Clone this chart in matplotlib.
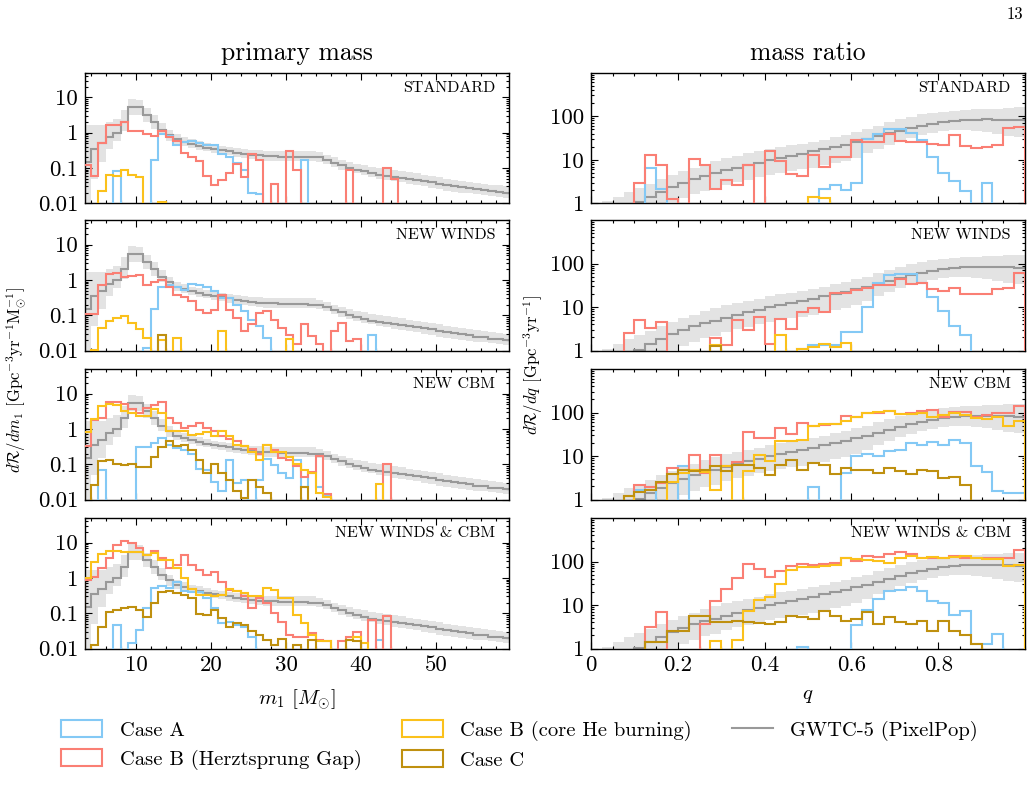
import numpy as np
import matplotlib
matplotlib.use("Agg")
import matplotlib.pyplot as plt
from matplotlib.ticker import AutoMinorLocator, LogLocator, NullFormatter
from matplotlib.patches import Patch
from matplotlib.lines import Line2D

plt.rcParams["font.family"] = ["cmr10", "DejaVu Serif"]
plt.rcParams["mathtext.fontset"] = "cm"
plt.rcParams["axes.formatter.use_mathtext"] = True
plt.rcParams["axes.unicode_minus"] = False

# ---------------- data ----------------
MODELS = ["STANDARD", "NEW WINDS", "NEW CBM", "NEW WINDS & CBM"]
CASE_LABELS = ["Case A", "Case B (Herztsprung Gap)", "Case B (core He burning)", "Case C"]
GW_LABEL = "GWTC-5 (PixelPop)"

M1_EDGES = np.arange(3, 61)            # 1 Msun bins, 3..60
Q_EDGES = np.linspace(0.0, 1.0, 41)    # 0.025 bins

# primary-mass histograms, bins m1 = 3..44  (42 values)
STD_A = [0, 0, 0, 0, 0.08, 0, 0, 0, 0, 0.17,
         0.9, 0.8, 0.45, 0.55, 0.6, 0.5, 0.45, 0.45, 0.25, 0.2,
         0.14, 0.09, 0.02, 0.018, 0, 0, 0, 0, 0, 0.17,
         0, 0, 0, 0, 0, 0, 0, 0, 0, 0,
         0, 0]
STD_BHG = [0.12, 0.06, 0.5, 1.7, 1.7, 2.0, 1.1, 1.1, 0.9, 0.8,
           1.1, 0.77, 0.57, 0.27, 0.2, 0.16, 0.058, 0.032, 0.045, 0.07,
           0.13, 0.055, 0.25, 0.17, 0, 0.035, 0, 0.3, 0.09, 0,
           0, 0, 0, 0, 0, 0.09, 0, 0, 0, 0,
           0.1, 0.05]
STD_BHE = [0, 0, 0.022, 0.065, 0.06, 0.085, 0.065, 0.055, 0, 0,
           0.011, 0, 0, 0, 0, 0, 0, 0, 0, 0,
           0, 0, 0, 0, 0, 0, 0, 0, 0, 0,
           0, 0, 0, 0, 0, 0, 0, 0, 0, 0,
           0, 0]
STD_C = [0] * 42

NW_A = [0, 0, 0, 0, 0, 0, 0, 0, 0.012, 0.15,
        0.65, 0.7, 0.65, 0.52, 0.76, 0.7, 0.65, 0.5, 0.31, 0.31,
        0.2, 0.13, 0.076, 0.049, 0.023, 0, 0, 0, 0, 0,
        0, 0, 0, 0, 0, 0, 0, 0, 0.028, 0,
        0, 0]
NW_BHG = [0.11, 0.11, 0.72, 1.45, 1.55, 1.24, 1.3, 1.4, 0.72, 0.9,
          1.0, 0.65, 0.38, 0.34, 0.25, 0.14, 0.115, 0.14, 0.38, 0.14,
          0.085, 0.036, 0.055, 0.115, 0.135, 0.076, 0.044, 0.028, 0.015, 0.055,
          0.026, 0.015, 0, 0.036, 0.061, 0.019, 0.022, 0, 0, 0,
          0, 0]
NW_BHE = [0, 0.0105, 0.045, 0.07, 0.085, 0.095, 0.06, 0.04, 0.023, 0,
          0.02, 0, 0.023, 0, 0, 0, 0, 0, 0.036, 0,
          0, 0, 0, 0, 0, 0, 0, 0.021, 0, 0,
          0, 0, 0, 0, 0, 0, 0, 0, 0, 0,
          0, 0]
NW_C = [0, 0, 0, 0, 0, 0, 0, 0, 0, 0,
        0.028, 0, 0, 0, 0, 0, 0, 0, 0, 0,
        0, 0, 0, 0, 0, 0, 0, 0, 0, 0,
        0, 0, 0, 0, 0, 0, 0, 0, 0, 0,
        0, 0]

CBM_A = [0, 0, 0.07, 0, 0, 0, 0, 0.3, 0.3, 0.4,
         0.55, 0.36, 0.29, 0.26, 0.2, 0.075, 0.07, 0.032, 0.018, 0.13,
         0.029, 0.036, 0, 0.036, 0.14, 0.095, 0.055, 0.04, 0.13, 0.023,
         0.055, 0.023, 0.013, 0, 0, 0, 0, 0, 0, 0,
         0, 0]
CBM_BHG = [0.33, 1.85, 2.0, 5.9, 5.9, 5.2, 3.6, 2.9, 4.0, 4.7,
           5.8, 2.0, 1.5, 1.1, 1.25, 1.5, 1.1, 0.9, 0.65, 0.52,
           0.45, 0.33, 0.27, 0.2, 0.36, 0.25, 0.15, 0.13, 0.09, 0.045,
           0.06, 0.17, 0.0145, 0, 0, 0, 0, 0, 0, 0,
           0.1, 0]
CBM_BHE = [0.8, 1.9, 4.4, 5.2, 4.7, 3.2, 2.9, 2.3, 2.3, 3.6,
           2.9, 0.86, 0.86, 0.86, 0.69, 0.72, 0.8, 0.62, 0.86, 0.65,
           0.36, 0.33, 0.23, 0.13, 0.36, 0.23, 0.23, 0.16, 0.105, 0.069,
           0.055, 0.015, 0.012, 0, 0, 0, 0, 0, 0, 0.028,
           0, 0]
CBM_C = [0, 0.026, 0.12, 0.13, 0.1, 0.095, 0.1, 0.086, 0.086, 0.16,
         0.3, 0.46, 0.33, 0.36, 0.26, 0.13, 0.055, 0.1, 0.057, 0.036,
         0.018, 0.011, 0.036, 0.023, 0.015, 0, 0, 0, 0, 0.023,
         0, 0, 0, 0, 0, 0, 0, 0, 0, 0,
         0, 0]

NWC_A = [0, 0, 0, 0, 0.047, 0, 0.014, 0.034, 0.14, 0.51,
         0.6, 0.51, 0.79, 0.43, 0.41, 0.41, 0.27, 0.14, 0.052, 0.055,
         0.047, 0.04, 0.022, 0, 0, 0, 0, 0, 0, 0,
         0, 0, 0, 0, 0, 0, 0, 0, 0, 0.018,
         0, 0]
NWC_BHG = [0.88, 1.1, 1.9, 3.6, 8.6, 11.4, 9.6, 6.9, 4.5, 5.8,
           3.6, 1.9, 2.3, 4.5, 2.3, 1.7, 1.2, 1.5, 0.79, 0.46,
           0.43, 0.3, 0.14, 0.27, 0.19, 0.1, 0.058, 0.025, 0.021, 0.021,
           0.027, 0.018, 0.016, 0, 0.016, 0.022, 0.03, 0, 0.066, 0,
           0.086, 0]
NWC_BHE = [1.0, 2.9, 4.7, 5.8, 5.8, 5.6, 5.6, 5.6, 4.5, 5.0,
           3.2, 3.2, 1.9, 1.0, 0.5, 0.32, 0.32, 0.3, 0.32, 0.49,
           0.43, 0.37, 0.3, 0.3, 0.53, 0.46, 0.27, 0.27, 0.09, 0.052,
           0.025, 0.016, 0.016, 0, 0, 0.018, 0.022, 0.014, 0, 0,
           0, 0]
NWC_C = [0, 0.013, 0.042, 0.11, 0.12, 0.14, 0.15, 0.12, 0.08, 0.19,
         0.4, 0.43, 0.37, 0.33, 0.27, 0.094, 0.09, 0.12, 0.072, 0.04,
         0.052, 0.047, 0.032, 0.025, 0.018, 0.013, 0.019, 0, 0.013, 0,
         0.017, 0, 0, 0, 0, 0.018, 0.016, 0, 0, 0,
         0, 0]

# GWTC-5 PixelPop primary-mass rate, bins m1 = 3..59 (57 values)
GW_M1_MED = [0.15, 0.35, 0.5, 0.75, 1.0, 2.0, 5.5, 5.5, 3.2, 2.0,
             1.2, 0.85, 0.65, 0.55, 0.48, 0.42, 0.38, 0.35, 0.32, 0.3,
             0.27, 0.25, 0.24, 0.23, 0.22, 0.22, 0.21, 0.21, 0.21, 0.21,
             0.2, 0.2, 0.17, 0.14, 0.12, 0.1, 0.09, 0.08, 0.07, 0.065,
             0.06, 0.057, 0.053, 0.05, 0.046, 0.043, 0.04, 0.036, 0.033, 0.031,
             0.029, 0.027, 0.025, 0.024, 0.022, 0.021, 0.02]
GW_M1_LO = [0.005, 0.05, 0.15, 0.35, 0.6, 1.1, 3.2, 3.2, 2.0, 1.3,
            0.85, 0.6, 0.48, 0.42, 0.37, 0.33, 0.3, 0.27, 0.25, 0.23,
            0.21, 0.19, 0.18, 0.17, 0.16, 0.16, 0.16, 0.16, 0.16, 0.16,
            0.16, 0.15, 0.13, 0.11, 0.09, 0.08, 0.07, 0.062, 0.056, 0.05,
            0.046, 0.042, 0.039, 0.036, 0.033, 0.03, 0.028, 0.025, 0.023, 0.021,
            0.02, 0.019, 0.018, 0.017, 0.016, 0.015, 0.014]
GW_M1_HI = [1.7, 1.7, 1.7, 2.0, 2.5, 4.5, 9.0, 8.5, 5.0, 3.2,
            1.9, 1.2, 0.9, 0.75, 0.65, 0.58, 0.52, 0.46, 0.42, 0.4,
            0.37, 0.35, 0.33, 0.32, 0.3, 0.3, 0.3, 0.3, 0.3, 0.3,
            0.3, 0.28, 0.24, 0.2, 0.17, 0.15, 0.13, 0.12, 0.11, 0.1,
            0.095, 0.088, 0.082, 0.076, 0.07, 0.065, 0.06, 0.055, 0.05, 0.047,
            0.044, 0.041, 0.038, 0.036, 0.034, 0.032, 0.03]

# mass-ratio histograms, 40 bins of width 0.025
STD_A_Q = [0, 0, 0, 0, 0, 6.6, 2.1, 0, 0, 0,
           0, 0, 0, 0, 0, 0, 0, 0, 0, 0,
           0, 2.1, 2.6, 2.0, 3.0, 30, 40, 52, 52, 42,
           29, 11.5, 4.9, 3.2, 1.9, 0, 3.0, 0, 0, 0]
STD_BHG_Q = [0, 0, 0, 0, 3.0, 13, 7.5, 1.25, 0, 10.5,
             7.5, 2.1, 3.5, 2.6, 7.7, 0, 15.5, 9.5, 4.7, 4.3,
             13, 6.8, 11.5, 11.5, 28, 25, 25, 40, 27, 26,
             25, 23, 22, 37, 21, 18.5, 20, 22, 54, 56]
STD_BHE_Q = [0, 0, 0, 0, 0, 0, 0, 0, 0, 0,
             0, 0, 0, 0, 0, 0, 0, 0, 0, 0,
             1.4, 1.3, 0, 0, 0, 0, 0, 0, 0, 0,
             0, 0, 0, 0, 0, 0, 0, 0, 0, 0]
STD_C_Q = [0] * 40

NW_A_Q = [0, 0, 0, 0, 0, 0, 0, 0, 0, 0,
          0, 0, 0, 0, 0, 0, 0, 0, 0, 1.1,
          1.35, 1.35, 1.35, 2.7, 2.7, 10.3, 36, 54, 56, 56,
          36, 17, 8.2, 3.6, 2.3, 0, 0, 0, 0, 0]
NW_BHG_Q = [0, 0, 0, 2.6, 5.1, 3.3, 4.5, 0, 0, 0,
            0, 1.9, 1.35, 5.1, 3.0, 5.8, 1.4, 5.4, 3.1, 7.7,
            9.5, 7.9, 21, 21, 25, 27, 32, 32, 43, 33,
            36, 26, 24, 27, 20, 20, 20, 26, 28, 61]
NW_BHE_Q = [0, 0, 0, 0, 0, 0, 0, 0, 0, 0,
            0, 1.35, 0, 0, 0, 0, 0, 2.3, 0, 1.1,
            1.2, 1.4, 1.2, 1.5, 0, 0, 0, 0, 0, 0,
            0, 0, 0, 0, 0, 0, 0, 0, 0, 0]
NW_C_Q = [0, 0, 0, 0, 0, 0, 0, 0, 0, 0,
          0, 1.3, 0, 0, 0, 0, 0, 0, 0, 0,
          0, 0, 0, 0, 0, 0, 0, 0, 0, 0,
          0, 0, 0, 0, 0, 0, 0, 0, 0, 0]

CBM_A_Q = [0, 0, 0, 0, 1.7, 1.9, 0, 0, 5.9, 0,
           0, 0, 0, 0, 0, 0, 0, 0, 0, 0,
           1.9, 0, 0, 4.1, 10, 11, 10, 13, 14, 20,
           18, 21, 18, 23, 20, 5.9, 4.3, 1.6, 1.4, 1.4]
CBM_BHG_Q = [0, 0, 0, 0, 2.2, 1.9, 2.4, 5.4, 4.9, 10.4,
             4.0, 10.4, 5.9, 7.3, 36, 26.5, 26.5, 43, 32, 59,
             49, 51, 54, 84, 77, 100, 100, 109, 92, 96,
             109, 115, 80, 103, 103, 77, 87, 96, 100, 138]
CBM_BHE_Q = [0, 0, 0, 1.2, 0, 0, 0, 2.6, 4.0, 4.9,
             4.3, 1.7, 5.9, 0, 4.5, 10.4, 7.7, 22, 22, 24,
             49, 54, 54, 64, 77, 100, 103, 109, 92, 92,
             100, 77, 87, 96, 87, 73, 70, 77, 49, 64]
CBM_C_Q = [0, 0, 0, 1.2, 1.5, 1.7, 2.5, 3.8, 4.9, 4.5,
           4.9, 5.9, 4.5, 6.1, 6.4, 5.4, 3.6, 6.1, 8.1, 4.8,
           7.0, 6.1, 3.8, 5.4, 4.9, 4.9, 4.1, 5.4, 4.5, 3.8,
           4.9, 4.5, 3.2, 3.3, 2.2, 0, 0, 0, 0, 0]

NWC_A_Q = [0, 0, 0, 0, 0, 0, 0, 0, 0, 0,
           0, 0, 0, 0, 0, 0, 0, 0, 0, 1.1,
           0, 0, 0, 0, 3.4, 7.8, 13.8, 20.7, 22.3, 25.5,
           21.4, 12.2, 11, 5.8, 7.2, 1.3, 1.3, 2.2, 0, 0]
NWC_BHG_Q = [0, 0, 0, 0, 0, 3.1, 6.8, 0, 0, 0,
             3.6, 12.7, 23, 42, 90, 67, 45, 61, 80, 87,
             84, 87, 95, 123, 104, 135, 128, 152, 170, 152,
             123, 123, 123, 135, 123, 119, 123, 123, 123, 181]
NWC_BHE_Q = [0, 0, 0, 0, 0, 0, 0, 0, 0, 0,
             0, 1.5, 0, 1.6, 7.5, 13, 15, 31, 63, 73,
             73, 80, 84, 123, 113, 107, 104, 95, 119, 135,
             123, 128, 123, 128, 135, 119, 113, 113, 80, 82]
NWC_C_Q = [0, 0, 0, 0, 0, 1.4, 1.4, 2.6, 2.5, 5.5,
           5.7, 4.0, 4.0, 4.4, 4.0, 3.8, 3.6, 4.0, 5.7, 5.3,
           4.8, 7.5, 5.5, 4.4, 4.8, 6.8, 3.7, 5.3, 4.0, 3.7,
           4.3, 2.5, 4.3, 2.6, 2.1, 1.3, 0, 0, 0, 0]

# GWTC-5 PixelPop mass-ratio rate (40 bins)
GW_Q_MED = [0.4, 0.55, 0.7, 0.85, 1.05, 1.4, 1.8, 2.4, 3.0, 3.6,
            4.2, 4.9, 5.7, 6.6, 7.6, 8.6, 9.8, 11, 12.3, 13.7,
            15.5, 17.5, 19.5, 22, 25.5, 29.5, 34.5, 40.5, 47, 54,
            61, 67, 73, 78, 82, 84, 85, 84, 82, 80]
GW_Q_LO = [0.3, 0.35, 0.4, 0.5, 0.6, 0.75, 0.9, 1.05, 1.3, 1.6,
           1.9, 2.2, 2.7, 3.1, 3.5, 4.0, 4.5, 5.0, 5.5, 6.0,
           6.5, 7.5, 8.5, 9.5, 11, 14, 18, 22, 27, 32,
           37, 42, 46, 48, 48, 46, 43, 40, 36, 33]
GW_Q_HI = [0.8, 1.1, 1.4, 1.8, 2.3, 2.8, 3.6, 4.5, 5.5, 6.6,
           8.0, 9.5, 11, 12.5, 14, 15.5, 17.5, 19.5, 21.5, 23.5,
           26, 29, 33, 37, 43, 50, 60, 72, 85, 97,
           110, 120, 128, 135, 140, 144, 147, 150, 155, 160]

M1_DATA = [[STD_A, STD_BHG, STD_BHE, STD_C],
           [NW_A, NW_BHG, NW_BHE, NW_C],
           [CBM_A, CBM_BHG, CBM_BHE, CBM_C],
           [NWC_A, NWC_BHG, NWC_BHE, NWC_C]]
Q_DATA = [[STD_A_Q, STD_BHG_Q, STD_BHE_Q, STD_C_Q],
          [NW_A_Q, NW_BHG_Q, NW_BHE_Q, NW_C_Q],
          [CBM_A_Q, CBM_BHG_Q, CBM_BHE_Q, CBM_C_Q],
          [NWC_A_Q, NWC_BHG_Q, NWC_BHE_Q, NWC_C_Q]]

# ---------------- style ----------------
COLORS = ["#84C9F5", "#FA7F74", "#FBC11B", "#BF900F"]
GW_COLOR = "#999999"
BAND_COLOR = "#E3E3E3"
LW = 1.5
TICK_FS = 16.5
LEG_FS = 14.8

fig = plt.figure(figsize=(10.32, 7.90), dpi=100)
W, H = 1032.0, 790.0


def rect(x0, top, w, h):
    return [x0 / W, 1 - (top + h) / H, w / W, h / H]


ROW_TOPS = [72.7, 220.0, 369.0, 518.0]
ROW_H = 130.6
LEFT_X, LEFT_W = 85.0, 424.0
RIGHT_X, RIGHT_W = 591.0, 434.0

TINY = 1e-6


def clean(vals):
    v = np.asarray(vals, dtype=float)
    return np.where(v > 0, v, TINY)


def style_axis(ax):
    ax.tick_params(which="both", direction="in", top=True, right=True,
                   labelsize=TICK_FS, width=0.8)
    ax.tick_params(which="major", length=5, pad=5)
    ax.tick_params(which="minor", length=2.5)
    for s in ax.spines.values():
        s.set_linewidth(1.0)


for r in range(4):
    # ---- primary mass ----
    ax = fig.add_axes(rect(LEFT_X, ROW_TOPS[r], LEFT_W, ROW_H))
    ax.set_yscale("log")
    ax.stairs(np.asarray(GW_M1_HI), M1_EDGES, baseline=np.asarray(GW_M1_LO),
              fill=True, color=BAND_COLOR, lw=0, zorder=1)
    ax.stairs(np.asarray(GW_M1_MED), M1_EDGES, baseline=None,
              color=GW_COLOR, lw=LW, zorder=2)
    n = len(M1_DATA[r][0])
    for c in range(4):
        ax.stairs(clean(M1_DATA[r][c]), M1_EDGES[: n + 1], baseline=TINY,
                  color=COLORS[c], lw=LW, zorder=3 + c)
    ax.set_xlim(3.2, 59.75)
    ax.set_ylim(0.01, 50)
    ax.set_yticks([0.01, 0.1, 1, 10])
    ax.set_yticklabels(["0.01", "0.1", "1", "10"])
    ax.yaxis.set_minor_locator(LogLocator(base=10, subs=np.arange(2, 10), numticks=20))
    ax.yaxis.set_minor_formatter(NullFormatter())
    ax.set_xticks([10, 20, 30, 40, 50])
    ax.xaxis.set_minor_locator(AutoMinorLocator(5))
    style_axis(ax)
    if r < 3:
        ax.set_xticklabels([])
    else:
        ax.set_xticklabels(["10", "20", "30", "40", "50"])
        ax.set_xlabel(r"$m_1$ $[M_{\odot}]$", fontsize=15, labelpad=9)
    ax.text(0.967, 0.885, MODELS[r], transform=ax.transAxes, ha="right",
            va="center", fontsize=11.5)
    if r == 0:
        ax.set_title("primary mass", fontsize=18.5, pad=9)

    # ---- mass ratio ----
    ax = fig.add_axes(rect(RIGHT_X, ROW_TOPS[r], RIGHT_W, ROW_H))
    ax.set_yscale("log")
    ax.stairs(np.asarray(GW_Q_HI), Q_EDGES, baseline=np.asarray(GW_Q_LO),
              fill=True, color=BAND_COLOR, lw=0, zorder=1)
    ax.stairs(np.asarray(GW_Q_MED), Q_EDGES, baseline=None,
              color=GW_COLOR, lw=LW, zorder=2)
    for c in range(4):
        ax.stairs(clean(Q_DATA[r][c]), Q_EDGES, baseline=TINY,
                  color=COLORS[c], lw=LW, zorder=3 + c)
    ax.set_xlim(0, 1.0)
    ax.set_ylim(1, 1000)
    ax.set_yticks([1, 10, 100])
    ax.set_yticklabels(["1", "10", "100"])
    ax.yaxis.set_minor_locator(LogLocator(base=10, subs=np.arange(2, 10), numticks=20))
    ax.yaxis.set_minor_formatter(NullFormatter())
    ax.set_xticks([0, 0.2, 0.4, 0.6, 0.8])
    ax.xaxis.set_minor_locator(AutoMinorLocator(4))
    style_axis(ax)
    if r < 3:
        ax.set_xticklabels([])
    else:
        ax.set_xticklabels(["0", "0.2", "0.4", "0.6", "0.8"])
        ax.set_xlabel(r"$q$", fontsize=15, labelpad=9)
    ax.text(0.967, 0.885, MODELS[r], transform=ax.transAxes, ha="right",
            va="center", fontsize=11.5)
    if r == 0:
        ax.set_title("mass ratio", fontsize=18.5, pad=9)

# y labels
fig.text(16 / W, 1 - 380 / H,
         r"$d\mathcal{R}/dm_1$ [Gpc$^{-3}$yr$^{-1}$M$_{\odot}^{-1}$]",
         rotation=90, ha="center", va="center", fontsize=12)
fig.text(533 / W, 1 - 365 / H, r"$d\mathcal{R}/dq$ [Gpc$^{-3}$yr$^{-1}$]",
         rotation=90, ha="center", va="center", fontsize=12)

# page number
fig.text(1015 / W, 1 - 14 / H, "13", ha="center", va="center", fontsize=12)

# legend
handles = [Patch(facecolor="white", edgecolor=COLORS[i], linewidth=1.5)
           for i in range(4)]
handles.append(Line2D([0], [0], color=GW_COLOR, lw=LW))
labels = CASE_LABELS + [GW_LABEL]
fig.legend(handles, labels, loc="upper left", bbox_to_anchor=(61 / W, 1 - 720 / H),
           ncol=3, frameon=False, fontsize=LEG_FS, handlelength=2.0, handleheight=0.9,
           handletextpad=0.85, columnspacing=1.95, labelspacing=0.45,
           borderaxespad=0, borderpad=0)

fig.savefig("out.png", dpi=100)
